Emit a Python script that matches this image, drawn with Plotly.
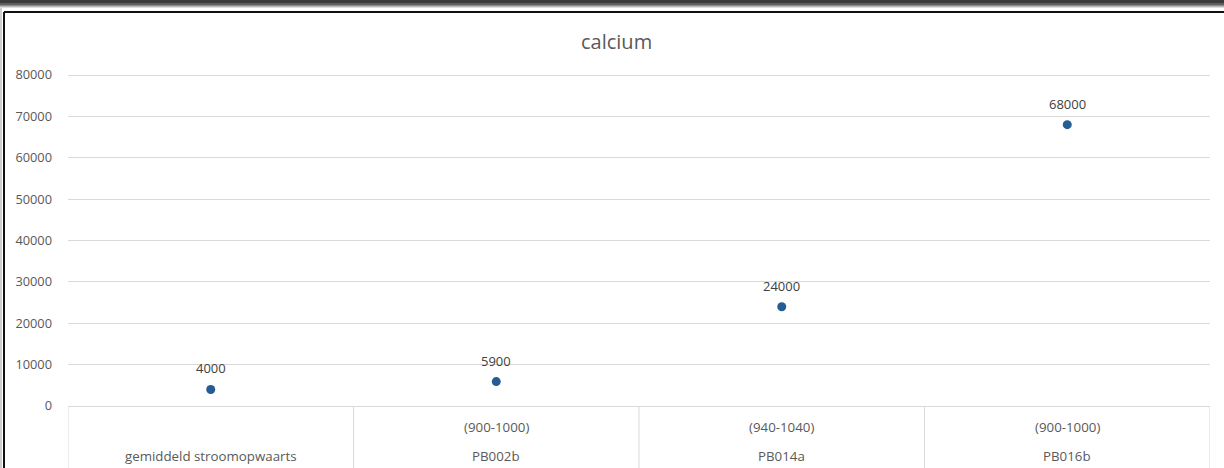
import plotly.graph_objects as go

title = "calcium"
sites = ["gemiddeld stroomopwaarts", "PB002b", "PB014a", "PB016b"]
depths = ["", "(900-1000)", "(940-1040)", "(900-1000)"]
calcium = [4000, 5900, 24000, 68000]
yticks = [0, 10000, 20000, 30000, 40000, 50000, 60000, 70000, 80000]

W, H = 1224, 468
ML, MR, MT, MB = 68, 14, 73, 62
pw = W - ML - MR
ph = H - MT - MB
ymax = (H - MB - MT) / (H - MB - 75) * 80000

txt = "#595959"
grid = "#d9d9d9"
font = "Open Sans"

xs = list(range(len(sites)))

fig = go.Figure()
fig.add_trace(go.Scatter(
    x=xs, y=calcium, mode="markers",
    marker=dict(size=9, color="#245c94"),
    hoverinfo="skip", showlegend=False,
))

ann = []
for x, v in zip(xs, calcium):
    ann.append(dict(x=x, y=v, xref="x", yref="y", text=str(v), showarrow=False,
                    yshift=21, font=dict(family=font, size=13, color="#404040")))
# category labels (two levels)
for x, s, d in zip(xs, sites, depths):
    ann.append(dict(x=x, y=0, xref="x", yref="paper", yanchor="middle", text=s,
                    showarrow=False, yshift=-50,
                    font=dict(family=font, size=13.3, color=txt)))
    if d:
        ann.append(dict(x=x, y=0, xref="x", yref="paper", yanchor="middle", text=d,
                        showarrow=False, yshift=-21,
                        font=dict(family=font, size=13.3, color=txt)))
ann.append(dict(x=(616 - ML) / pw, y=1, xref="paper", yref="paper", yanchor="middle",
                text=title, showarrow=False, yshift=MT - 41,
                font=dict(family=font, size=20, color=txt)))

shapes = []
ybot = -(MB + 5) / ph
for i in range(len(sites) + 1):
    shapes.append(dict(type="line", xref="x", yref="paper", x0=i - 0.5, x1=i - 0.5,
                       y0=0, y1=ybot, line=dict(color=grid, width=1)))

# outer frame (screenshot border)
def px_x(p):
    return (p - ML) / pw
def px_y(p):
    return (H - MB - p) / ph
for (a, b, c) in [(-5, 3, "#3a3a3a"), (3, 5, "#5e5e5e"), (5, 6, "#8a8a8a"),
                  (6, 7, "#b5b5b5"), (7, 8, "#dddddd")]:
    shapes.append(dict(type="rect", xref="paper", yref="paper", x0=px_x(-5), x1=px_x(W + 5),
                       y0=px_y(a), y1=px_y(b), fillcolor=c, line=dict(width=0), layer="above"))
shapes.append(dict(type="rect", xref="paper", yref="paper", x0=px_x(-5), x1=px_x(2),
                   y0=px_y(8), y1=px_y(H + 5), fillcolor="#cfcfcf", line=dict(width=0), layer="above"))
shapes.append(dict(type="line", xref="paper", yref="paper", x0=px_x(4), x1=px_x(W + 5),
                   y0=px_y(12), y1=px_y(12), line=dict(color="#111111", width=2)))
shapes.append(dict(type="line", xref="paper", yref="paper", x0=px_x(4), x1=px_x(4),
                   y0=px_y(12), y1=px_y(H + 5), line=dict(color="#111111", width=2)))

fig.update_layout(
    width=W, height=H,
    margin=dict(l=ML, r=MR, t=MT, b=MB, pad=0),
    paper_bgcolor="white", plot_bgcolor="white",
    font=dict(family=font, size=12, color=txt),
    xaxis=dict(range=[-0.5, len(sites) - 0.5], showgrid=False, zeroline=False,
               showticklabels=False, showline=False, ticks=""),
    yaxis=dict(range=[0, ymax], tickvals=yticks, ticktext=[str(t) for t in yticks],
               showgrid=True, gridcolor=grid, gridwidth=1, zeroline=True,
               zerolinecolor=grid, zerolinewidth=1, showline=False, ticks="",
               ticklabelstandoff=15, tickfont=dict(family=font, size=12.8, color=txt)),
    annotations=ann, shapes=shapes,
)

fig.write_html(
    "out.html", config={"displayModeBar": False},
    post_script=("document.documentElement.style.overflow='hidden';"
                 "document.body.style.overflow='hidden';"
                 "document.body.style.margin='0';"),
)
